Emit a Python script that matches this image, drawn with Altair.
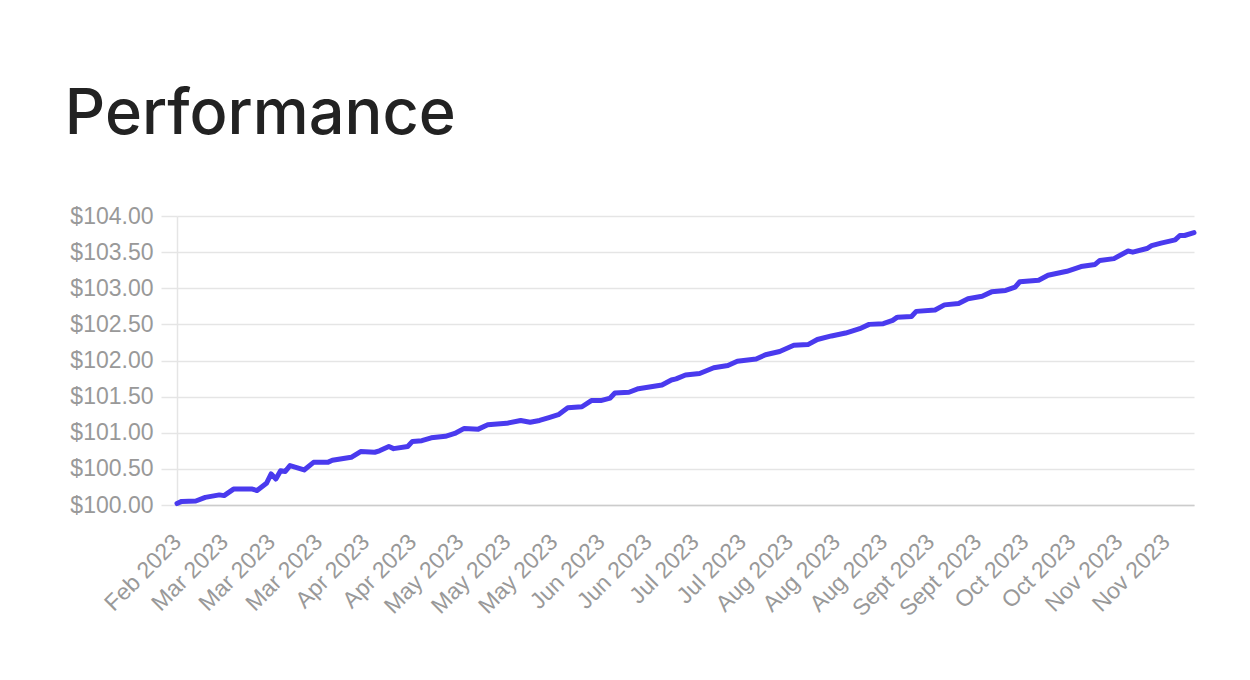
import altair as alt
import pandas as pd

day = [0, 1, 4, 6, 9, 10, 12, 16, 17, 19, 20, 21, 22, 23, 24, 27, 29, 32, 33, 37,
       39, 42, 43, 45, 46, 49, 50, 52, 54, 57, 59, 61, 64, 66, 70, 73, 75, 77, 79, 81,
       83, 86, 88, 90, 92, 93, 96, 98, 101, 103, 105, 106, 108, 111, 114, 117, 119, 123, 125, 128,
       131, 134, 136, 139, 142, 145, 147, 150, 152, 153, 156, 157, 161, 163, 166, 168, 171, 173, 176, 178,
       179, 181, 183, 185, 189, 192, 195, 196, 199, 202, 203, 206, 207, 209, 212, 213, 214, 216]
value = [100.02, 100.05, 100.055, 100.105, 100.14, 100.13, 100.22, 100.22, 100.20, 100.30,
         100.43, 100.36, 100.475, 100.465, 100.545, 100.485, 100.59, 100.59, 100.62, 100.66,
         100.74, 100.73, 100.75, 100.81, 100.78, 100.81, 100.88, 100.89, 100.93, 100.95,
         100.99, 101.06, 101.05, 101.11, 101.13, 101.17, 101.145, 101.17, 101.21, 101.25,
         101.345, 101.36, 101.445, 101.445, 101.48, 101.55, 101.56, 101.61, 101.64, 101.66,
         101.73, 101.745, 101.80, 101.82, 101.90, 101.93, 101.99, 102.02, 102.08, 102.125,
         102.21, 102.22, 102.29, 102.34, 102.38, 102.44, 102.50, 102.51, 102.555, 102.60,
         102.61, 102.68, 102.70, 102.77, 102.79, 102.855, 102.89, 102.95, 102.97, 103.015,
         103.09, 103.10, 103.11, 103.18, 103.235, 103.30, 103.33, 103.385, 103.41, 103.515,
         103.50, 103.55, 103.59, 103.625, 103.67, 103.73, 103.73, 103.77]

tick_days = [0, 10, 20, 30, 40, 50, 60, 70, 80, 90, 100, 110, 120, 130, 140, 150, 160, 170, 180, 190, 200, 210]
tick_labels = ["Feb 2023", "Mar 2023", "Mar 2023", "Mar 2023", "Apr 2023", "Apr 2023",
               "May 2023", "May 2023", "May 2023", "Jun 2023", "Jun 2023", "Jul 2023",
               "Jul 2023", "Aug 2023", "Aug 2023", "Aug 2023", "Sept 2023", "Sept 2023",
               "Oct 2023", "Oct 2023", "Nov 2023", "Nov 2023"]
y_ticks = [100.0, 100.5, 101.0, 101.5, 102.0, 102.5, 103.0, 103.5, 104.0]

df = pd.DataFrame({"day": day, "value": value})

label_map = "{" + ",".join(f"'{d}':'{l}'" for d, l in zip(tick_days, tick_labels)) + "}"

chart = alt.Chart(df).mark_line(
    color="#4a3aee", strokeWidth=5, strokeCap="round", strokeJoin="round"
).encode(
    x=alt.X("day:Q",
            scale=alt.Scale(domain=[0, 216], nice=False, zero=False),
            axis=alt.Axis(values=tick_days, labelExpr=f"{label_map}[''+datum.value]",
                          labelAngle=-45, labelAlign="right", labelBaseline="middle",
                          labelPadding=33, ticks=False, grid=False,
                          labelOverlap=False, labelBound=False, labelFlush=False,
                          domainColor="#cccccc", domainWidth=1.5,
                          labelFont="Liberation Sans", labelFontSize=23, labelColor="#999999",
                          title=None)),
    y=alt.Y("value:Q",
            scale=alt.Scale(domain=[100, 104], nice=False, zero=False),
            axis=alt.Axis(values=y_ticks, format="$,.2f", grid=True, gridColor="#e5e5e5",
                          gridWidth=1.5, tickSize=16, tickColor="#e5e5e5", tickWidth=1.5,
                          domainColor="#e5e5e5", domainWidth=1.5, labelPadding=8,
                          labelFont="Liberation Sans", labelFontSize=23, labelColor="#999999",
                          title=None)),
).properties(
    width=1017,
    height=289,
    autosize=alt.AutoSizeParams(type="none"),
    padding={"left": 169, "top": 208, "right": 40, "bottom": 150},
    title=alt.TitleParams("Performance", anchor="start", frame="bounds",
                          font="Inter", fontSize=63, fontWeight=500,
                          color="#222222", baseline="alphabetic", offset=8, dx=-5),
).configure_view(stroke=None)

chart.save("out.html", embed_options={"renderer": "svg", "actions": False})
